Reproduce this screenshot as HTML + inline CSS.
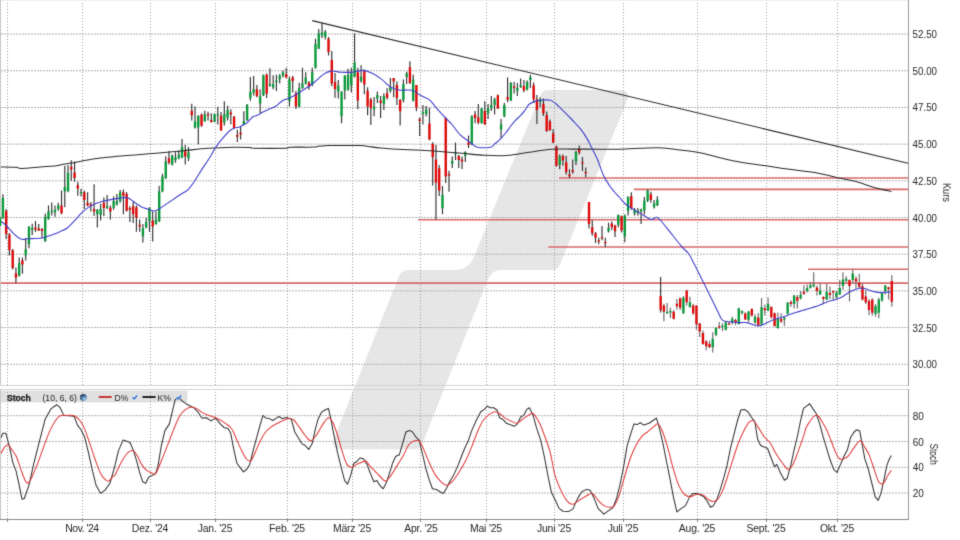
<!DOCTYPE html><html><head><meta charset="utf-8"><title>Stoch Chart</title><style>
html,body{margin:0;padding:0;background:#fff;}body{width:960px;height:540px;overflow:hidden;}
svg{display:block;}text{font-family:"Liberation Sans",Arial,sans-serif;fill:#262626;}
</style></head><body>
<svg width="960" height="540" viewBox="0 0 960 540">
<defs><filter id="soft" x="0" y="0" width="960" height="540" filterUnits="userSpaceOnUse" color-interpolation-filters="sRGB"><feConvolveMatrix order="3" kernelMatrix="0.0144 0.0912 0.0144 0.0912 0.5776 0.0912 0.0144 0.0912 0.0144" divisor="1" edgeMode="duplicate"/></filter></defs>
<g filter="url(#soft)">
<rect width="960" height="540" fill="#fff"/>
<path d="M540.12 95.55Q542.4 90 548.4 90L619.5 90Q631.5 90 626.95 101.1L559.98 264.45Q557.7 270 551.7 270L501.7 270Q491.7 270 487.99 279.29L421.58 445.49Q420.1 449.2 416.1 449.2L341.9 449.2Q329.9 449.2 334.35 438.06L398.9 276.5Q401.5 270 408.5 270L454.6 270Q468.6 270 473.91 257.05Z" fill="#e6e6e6"/>
<rect x="1" y="390.6" width="186.4" height="11.8" fill="#e0e0e0"/>
<path d="M7.5 0V385M7.5 389V519M82.5 0V385M82.5 389V519M150.5 0V385M150.5 389V519M215.5 0V385M215.5 389V519M287.5 0V385M287.5 389V519M352.5 0V385M352.5 389V519M420.5 0V385M420.5 389V519M486.5 0V385M486.5 389V519M554.5 0V385M554.5 389V519M623.5 0V385M623.5 389V519M697.5 0V385M697.5 389V519M766.5 0V385M766.5 389V519M837.5 0V385M837.5 389V519" stroke="#a0a0a0" stroke-width="1" stroke-dasharray="1 2" fill="none" shape-rendering="crispEdges"/>
<path d="M1 34.1H908M1 70.78H908M1 107.46H908M1 144.14H908M1 180.82H908M1 217.5H908M1 254.18H908M1 290.86H908M1 327.54H908M1 364.22H908M1 415.7H908M1 441.5H908M1 467.3H908M1 493.1H908" stroke="#b2b2b2" stroke-width="1" stroke-dasharray="2 1" fill="none"/>
<path d="M7.5 519V522M82.45 519V522M150.6 519V522M215.7 519V522M287.5 519V522M352.55 519V522M420.9 519V522M486.2 519V522M554.5 519V522M623.1 519V522M697.6 519V522M766.2 519V522M837.8 519V522" stroke="#888" stroke-width="1" shape-rendering="crispEdges"/>
<g stroke="#d9686a" stroke-width="1.6" fill="none">
<path d="M559 178H908"/>
<path d="M634 189.4H908"/>
<path d="M418 219.7H908"/>
<path d="M548.3 247H908"/>
<path d="M808 269.2H908"/>
<path d="M0 283.1H908"/>
</g>
<path d="M2.92 194.3V219M6.17 209V239M9.43 233V255.4M12.68 249V269.6M15.94 267.6V282.9M19.2 257.4V276.5M22.45 257.4V273.7M25.71 238V260.5M28.96 226.4V248.2M32.22 223.8V235M35.48 221V232M38.73 224V231M41.99 228V238M45.24 213.6V242M48.5 205.5V219.7M51.76 202.4V215.6M55.01 205.5V216.7M58.27 202.8V210.7M61.52 190.5V214.2M64.78 165.8V207.2M68.04 165V192.2M71.29 160.2V180.8M74.55 161.4V181.7M77.8 181.7V195.7M81.06 188.7V196.6M84.32 190.5V208.9M87.57 192.2V206.3M90.83 201.9V211.6M94.08 184.3V216M97.34 208.9V227.4M100.6 203.7V220.4M103.85 197.5V216M107.11 194.9V208.9M110.36 205.4V219.5M113.62 196.6V209.8M116.88 194V205.4M120.13 190V202.8M123.39 189.6V214.2M126.64 191.9V211.6M129.9 206.3V222.1M133.16 201.9V223M136.41 205.4V231.8M139.67 219.5V231.8M142.92 223.9V242.4M146.18 217.7V228.3M149.44 207.2V231.8M152.69 211.6V241.5M155.95 211.6V224.8M159.2 186.1V222.1M162.46 173.8V192.2M165.72 156.2V179M168.97 151.3V164.5M172.23 154.5V165.5M175.48 152.2V162.7M178.74 150.4V159.2M182 139V158.3M185.25 145.1V164.5M188.51 146.9V161M191.76 103.8V120.5M195.02 106.4V128.4M198.28 115.2V144.3M201.53 113.5V126.7M204.79 110.8V121.8M208.04 111.7V120.4M211.3 113.3V122.5M214.56 113.5V122.3M217.81 106.7V124.6M221.07 112.1V130.4M224.32 101.25V125.4M227.58 105.8V120.4M230.84 109.2V124.2M234.09 116V128.5M237.35 129.8V142.1M240.6 127.1V139.4M243.86 111.3V125.4M247.12 104V121M250.37 77V100.7M253.63 76.1V95.5M256.88 84.9V97.2M260.14 89.3V113.1M263.4 74.5V96M266.65 73.5V98.1M269.91 68.2V86.7M273.16 75.2V89.3M276.42 74.8V91M279.68 74V83.6M282.93 70.4V77.5M286.19 67.8V78.3M289.44 76.6V106.5M292.7 75.7V92.4M295.96 90.7V109.1M299.21 82.7V107.4M302.47 67.8V88.9M305.72 72.2V84.5M308.98 81V89.8M312.24 67.8V86.3M315.49 38.8V68.7M318.75 29.1V49.3M322 22.9V37.9M325.26 30V39.6M328.52 37V55.5M331.77 51V86.3M335.03 73.1V97.7M338.28 80.1V98.6M341.54 91.6V123.2M344.8 74.9V99.5M348.05 68.7V90.7M351.31 67.8V92.5M354.56 33.5V77.5M357.82 67.8V109.2M361.08 65.2V82.8M364.33 69.6V94.2M367.59 87.2V115.3M370.84 97.7V125M374.1 96.9V116.2M377.36 91.6V103M380.61 96V118M383.87 93.3V110M387.12 88V99.5M390.38 77.9V92.8M393.64 77.9V97.2M396.89 81.4V105.1M400.15 99V125.4M403.4 79.6V102.5M406.66 71.7V84M409.92 61.2V84M413.17 74.4V101.6M416.43 84.9V111.3M419.68 117.5V135.9M422.94 105.1V124.5M426.2 106V116.6M429.45 107.8V140.3M432.71 142.3V185.4M435.96 145V219.6M439.22 165V196.1M442.48 186.1V213.9M445.73 117V183M448.99 170.7V191.8M452.24 156.6V168.1M455.5 142.5V160.1M458.76 154.9V168.1M462.01 156.6V168.9M465.27 151.3V161.9M468.52 135.5V148M471.78 115.3V145.2M475.04 111V123.3M478.29 104V124.2M481.55 108V123.5M484.8 101.3V125.1M488.06 104V118.9M491.32 96.1V111M494.57 97.8V114.5M497.83 94.5V109M501.08 118.9V138.3M504.34 103.1V117.2M507.6 77.6V102.2M510.85 82V101M514.11 82V93.4M517.36 82.9V96.1M520.62 78.5V87.9M523.88 80V92.3M527.13 80.5V90.5M530.39 74.7V87.9M533.64 82.6V102.8M536.9 94.9V123.9M540.16 97.5V107.2M543.41 98.4V116M546.67 111.6V131.9M549.92 119.5V131M553.18 129.2V143.3M556.44 145.6V166.7M559.69 154.4V169.3M562.95 154.4V165.8M566.2 156.1V174.6M569.46 169.3V178.1M572.72 159.6V173.7M575.97 150.8V164.9M579.23 145.6V154.4M582.48 157V171M585.74 167.5V177.2M589 202V228.6M592.25 220.2V235.7M595.51 231.9V242.9M598.76 237.7V244.2M602.02 226V240.3M605.28 237.7V246.8M608.53 222.8V232.5M611.79 221.5V229.9M615.04 224.7V237M618.3 214.4V227.3M621.56 215.6V232.5M624.81 214.4V242.2M628.07 196.2V215.6M631.32 192.3V209.8M634.58 207.9V215.6M637.84 207.9V215.6M641.09 208.5V224.1M644.35 196.9V214.4M647.6 189.7V202M650.86 191.7V202.7M654.12 200.1V208.5M657.37 196.2V205.9M660.63 277.1V312.5" stroke="#333" stroke-width="1.15" fill="none"/>
<path d="M663.88 303.8V321.2M667.14 303V314.1M670.4 307.8V318M673.65 310V319.5M676.91 299.1V309.4M680.16 297.5V310.1M683.42 296V314.1M686.68 289.7V305.4M689.93 296.8V307.8M693.19 303.8V314.9M696.44 305.4V329.8M699.7 322.7V336.9M702.96 330.6V344.8M706.21 340V350.3M709.47 340.7V347.9M712.72 332.3V352.4M715.98 327.1V336.2M719.24 322V329.1M722.49 323.2V331M725.75 321.3V330.4M729 322V325.2M732.26 316.8V324.5M735.52 318.7V325.2M738.77 307.7V324.5M742.03 310.3V314.8M745.28 312.2V320M748.54 310.9V322M751.8 308.3V316.8M755.05 314.2V324.5M758.31 312.9V326.5M761.56 298V325.2M764.82 304.4V315.5M768.08 297.6V311.2M771.33 306.7V319M774.59 312.5V326.8M777.84 312.5V328.7M781.1 313.2V322.9M784.36 317V326.1M787.61 302.1V314.4M790.87 300.2V306.7M794.12 295V308.6M797.38 295V308.6M800.64 291.1V299.5M803.89 285.3V295M807.15 284.6V292.4M810.4 282V288.5M813.66 272.3V287.2M816.92 285.5V295.6M820.17 283.3V295M823.43 296.3V303.4M826.68 283.3V300.2M829.94 286.6V298.9M833.2 290.5V299.5M836.45 291.1V298.9M839.71 280.1V295M842.96 272.3V289.8M846.22 276.2V282M849.48 279.4V301.5M852.73 269.7V282.7M855.99 276.2V288.5M859.24 273.8V287.9M862.5 283.3V300.6M865.76 290V304.1M869.01 299V315M872.27 298.2V315.7M875.52 303.9V316.7M878.78 297.8V318.3M882.04 292.8V301.7M885.29 285V294.4M888.55 286.7V299.4M891.8 275V306.7" stroke="#707070" stroke-width="1.2" fill="none"/>
<path d="M1.72 197.9h2.4v19.8h-2.4zM18 263.1h2.4v12.6h-2.4zM24.51 249.3h2.4v6.1h-2.4zM27.76 226.4h2.4v17.8h-2.4zM31.02 227.9h2.4v2h-2.4zM44.04 216.7h2.4v24.4h-2.4zM47.3 211.6h2.4v7.1h-2.4zM50.56 210.5h2.4v1.2h-2.4zM53.81 209.8h2.4v2.7h-2.4zM57.07 205.4h2.4v3.5h-2.4zM63.58 187h2.4v4.3h-2.4zM66.84 172.9h2.4v18.4h-2.4zM79.86 191.9h2.4v1.7h-2.4zM96.14 209.8h2.4v4.4h-2.4zM99.4 208.9h2.4v6.2h-2.4zM105.91 206.3h2.4v1.7h-2.4zM112.42 201h2.4v7h-2.4zM115.68 201h2.4v3.5h-2.4zM118.93 192.2h2.4v8.8h-2.4zM141.72 228.3h2.4v7.9h-2.4zM144.98 222.1h2.4v5.3h-2.4zM148.24 208h2.4v13.3h-2.4zM154.75 219.5h2.4v4.4h-2.4zM158 191.3h2.4v30h-2.4zM161.26 176.4h2.4v14.9h-2.4zM164.52 161.4h2.4v16.7h-2.4zM171.03 155.7h2.4v8.8h-2.4zM174.28 157.5h2.4v2.6h-2.4zM177.54 154.8h2.4v3.5h-2.4zM180.8 146.9h2.4v10.6h-2.4zM187.31 152.2h2.4v6.1h-2.4zM193.82 121.4h2.4v6.1h-2.4zM197.08 116.1h2.4v11.4h-2.4zM203.59 114.2h2.4v7.1h-2.4zM213.36 114.2h2.4v7.5h-2.4zM216.61 114.2h2.4v1.2h-2.4zM223.12 114.2h2.4v8.3h-2.4zM226.38 110h2.4v7.5h-2.4zM242.66 121h2.4v3.5h-2.4zM245.92 105.1h2.4v15h-2.4zM249.17 92h2.4v6.1h-2.4zM252.43 89.3h2.4v3.5h-2.4zM258.94 96.3h2.4v7.1h-2.4zM262.2 75.2h2.4v20.3h-2.4zM268.71 84h2.4v1.8h-2.4zM271.96 84h2.4v3.5h-2.4zM275.22 80.5h2.4v1.8h-2.4zM278.48 75.7h2.4v3.5h-2.4zM281.73 72.2h2.4v3.5h-2.4zM288.24 79.2h2.4v22h-2.4zM298.01 88h2.4v18.5h-2.4zM301.27 83.6h2.4v4.4h-2.4zM304.52 77.5h2.4v6.1h-2.4zM311.04 72.2h2.4v12.3h-2.4zM314.29 44h2.4v23.8h-2.4zM317.55 33.5h2.4v14.9h-2.4zM320.8 32.6h2.4v2.6h-2.4zM324.06 31.7h2.4v5.3h-2.4zM337.08 85.4h2.4v6.2h-2.4zM340.34 91.6h2.4v24.6h-2.4zM343.6 75.7h2.4v15h-2.4zM346.85 74.9h2.4v14.9h-2.4zM350.11 73.1h2.4v12.3h-2.4zM353.36 62.5h2.4v14.1h-2.4zM359.88 76.6h2.4v4.4h-2.4zM372.9 106.5h2.4v2.7h-2.4zM376.16 95.1h2.4v3.5h-2.4zM382.67 96h2.4v7.9h-2.4zM389.18 87.5h2.4v3.5h-2.4zM402.2 84h2.4v15.9h-2.4zM405.46 73.5h2.4v3.5h-2.4zM411.97 79.6h2.4v21.1h-2.4zM421.74 112.2h2.4v1.7h-2.4zM425 109.5h2.4v4.4h-2.4zM441.28 195h2.4v13.3h-2.4zM451.04 161h2.4v2.7h-2.4zM454.3 152.2h2.4v1.8h-2.4zM464.07 152.2h2.4v3.5h-2.4zM470.58 116.6h2.4v27.4h-2.4zM480.35 108.4h2.4v14.9h-2.4zM486.86 108.4h2.4v5.3h-2.4zM490.12 104.9h2.4v3.5h-2.4zM493.37 99.6h2.4v5.3h-2.4zM499.88 124.2h2.4v5.3h-2.4zM503.14 104.9h2.4v11.4h-2.4zM509.65 82.9h2.4v17.6h-2.4zM516.16 88.1h2.4v2.7h-2.4zM519.42 85.2h2.4v1.8h-2.4zM525.93 81.7h2.4v7.9h-2.4zM529.19 77.3h2.4v2.7h-2.4zM538.96 99.3h2.4v2.7h-2.4zM558.49 156.1h2.4v8.8h-2.4zM574.77 151.7h2.4v9.7h-2.4zM607.33 228h2.4v3.2h-2.4zM617.1 215h2.4v9.7h-2.4zM623.61 215.6h2.4v20.8h-2.4zM626.87 196.9h2.4v14.2h-2.4zM633.38 210.5h2.4v3h-2.4zM636.64 210.5h2.4v1.9h-2.4zM639.89 209.5h2.4v2h-2.4zM643.15 200.7h2.4v9.8h-2.4zM646.4 190.4h2.4v10.3h-2.4zM652.92 203.3h2.4v3.9h-2.4zM656.17 199.4h2.4v5.9h-2.4zM665.94 311.7h2.4v1.6h-2.4zM669.2 311h2.4v1.5h-2.4zM682.22 297.5h2.4v15.8h-2.4zM688.73 302.3h2.4v4.7h-2.4zM711.52 338.8h2.4v8.4h-2.4zM714.78 327.8h2.4v7.1h-2.4zM721.29 325.8h2.4v1.3h-2.4zM724.55 322.6h2.4v7.1h-2.4zM731.06 318.7h2.4v3.9h-2.4zM737.57 308.3h2.4v15.6h-2.4zM740.83 310.9h2.4v2h-2.4zM747.34 311.6h2.4v8.4h-2.4zM753.85 316.8h2.4v5.8h-2.4zM760.36 307h2.4v17.5h-2.4zM766.88 304.1h2.4v6.5h-2.4zM776.64 319h2.4v9.1h-2.4zM783.16 317.7h2.4v1.9h-2.4zM786.41 302.8h2.4v11h-2.4zM792.92 295.6h2.4v8.5h-2.4zM799.44 294.4h2.4v3.8h-2.4zM805.95 287.9h2.4v3.2h-2.4zM809.2 285.3h2.4v2.6h-2.4zM812.46 284.6h2.4v2h-2.4zM818.97 290.5h2.4v3.9h-2.4zM825.48 291.8h2.4v7.7h-2.4zM835.25 292.4h2.4v4.6h-2.4zM838.51 287.9h2.4v6.5h-2.4zM841.76 279.4h2.4v6.5h-2.4zM845.02 278.8h2.4v1.9h-2.4zM851.53 273.6h2.4v6.5h-2.4zM874.32 306.1h2.4v7.8h-2.4zM877.58 299.4h2.4v13.4h-2.4zM880.84 293.3h2.4v7.3h-2.4zM884.09 285.6h2.4v5.5h-2.4z" fill="#0c9a3c"/>
<path d="M4.97 211h2.4v23h-2.4zM8.23 234.6h2.4v15.7h-2.4zM11.48 250.3h2.4v17.7h-2.4zM14.74 273.3h2.4v4.5h-2.4zM21.25 260.5h2.4v4h-2.4zM34.28 227.5h2.4v2h-2.4zM37.53 228.5h2.4v2h-2.4zM40.79 229h2.4v2h-2.4zM60.32 205.4h2.4v7.9h-2.4zM70.09 166.7h2.4v2.7h-2.4zM73.35 172.5h2.4v5.6h-2.4zM76.6 185.2h2.4v3.2h-2.4zM83.12 192.2h2.4v7.9h-2.4zM86.37 202.8h2.4v2.6h-2.4zM89.63 204.2h2.4v1.8h-2.4zM92.88 208.9h2.4v2.7h-2.4zM102.65 202.8h2.4v5.2h-2.4zM109.16 207.7h2.4v3.9h-2.4zM122.19 192.2h2.4v3.5h-2.4zM125.44 194h2.4v16.7h-2.4zM128.7 208h2.4v1.8h-2.4zM131.96 206.3h2.4v7.9h-2.4zM135.21 207.2h2.4v10.5h-2.4zM138.47 224.8h2.4v1.7h-2.4zM151.49 220.4h2.4v6.1h-2.4zM167.77 158.3h2.4v4.4h-2.4zM184.05 151.3h2.4v5.3h-2.4zM190.56 110.8h2.4v4.4h-2.4zM200.33 114.4h2.4v11.4h-2.4zM206.84 114.2h2.4v1.6h-2.4zM210.1 120h2.4v2h-2.4zM219.87 115.8h2.4v14.6h-2.4zM229.64 112.5h2.4v2.1h-2.4zM232.89 116.7h2.4v11.3h-2.4zM236.15 135h2.4v1.8h-2.4zM239.4 132.4h2.4v1.8h-2.4zM255.68 89.3h2.4v7h-2.4zM265.45 74.4h2.4v19.3h-2.4zM284.99 74h2.4v3.5h-2.4zM291.5 77.5h2.4v3.5h-2.4zM294.76 93.3h2.4v13.2h-2.4zM307.78 82.7h2.4v4.4h-2.4zM327.32 38.8h2.4v13.1h-2.4zM330.57 59.9h2.4v23.7h-2.4zM333.83 81.9h2.4v7h-2.4zM356.62 72.2h2.4v28.2h-2.4zM363.13 71.3h2.4v13.2h-2.4zM366.39 90.7h2.4v15.8h-2.4zM369.64 99.5h2.4v8.8h-2.4zM379.41 100.4h2.4v2.6h-2.4zM385.92 93.3h2.4v4.4h-2.4zM392.44 77.9h2.4v3.5h-2.4zM395.69 84.9h2.4v13.2h-2.4zM398.95 99.9h2.4v11.4h-2.4zM408.72 67.3h2.4v15.8h-2.4zM415.23 84.9h2.4v22.9h-2.4zM418.48 119.2h2.4v1.8h-2.4zM428.25 123.6h2.4v15.8h-2.4zM431.51 143.9h2.4v13.3h-2.4zM434.76 159.4h2.4v23.4h-2.4zM438.02 168.3h2.4v22.3h-2.4zM444.53 117.9h2.4v58.6h-2.4zM447.79 173.9h2.4v1.6h-2.4zM457.56 156.1h2.4v4h-2.4zM460.81 159.6h2.4v1.8h-2.4zM467.32 142.5h2.4v2.3h-2.4zM473.84 114.5h2.4v3.5h-2.4zM477.09 117.2h2.4v5.2h-2.4zM483.6 111h2.4v13.2h-2.4zM496.63 95.2h2.4v13.2h-2.4zM506.4 96.9h2.4v2.7h-2.4zM512.91 86.4h2.4v1.7h-2.4zM522.68 86.1h2.4v4.4h-2.4zM532.44 85.2h2.4v14.1h-2.4zM535.7 99.3h2.4v10.6h-2.4zM542.21 103.7h2.4v9.7h-2.4zM545.47 115.1h2.4v15.9h-2.4zM548.72 121.3h2.4v8.8h-2.4zM551.98 133.6h2.4v8.8h-2.4zM555.24 146.6h2.4v19.2h-2.4zM561.75 156.1h2.4v4.4h-2.4zM565 162.3h2.4v9.6h-2.4zM568.26 174.6h2.4v1.7h-2.4zM571.52 170.2h2.4v1.7h-2.4zM578.03 149.1h2.4v3.5h-2.4zM581.28 162.3h2.4v1.2h-2.4zM584.54 172h2.4v1.2h-2.4zM587.8 202h2.4v22.1h-2.4zM591.05 227.3h2.4v5.9h-2.4zM594.31 233.2h2.4v4.5h-2.4zM597.56 240.3h2.4v1.3h-2.4zM600.82 237h2.4v1.3h-2.4zM604.08 242h2.4v1.2h-2.4zM610.59 223.4h2.4v3.9h-2.4zM613.84 225.4h2.4v5.8h-2.4zM620.36 216.3h2.4v14.3h-2.4zM630.12 196.2h2.4v11.7h-2.4zM649.66 194.3h2.4v5.8h-2.4zM659.43 296h2.4v14.1h-2.4zM662.68 305.4h2.4v6.3h-2.4zM672.45 311.7h2.4v7.1h-2.4zM675.71 303.8h2.4v2.4h-2.4zM678.96 298.3h2.4v9.5h-2.4zM685.48 290.5h2.4v11.8h-2.4zM691.99 305.4h2.4v7.9h-2.4zM695.24 305.4h2.4v18.9h-2.4zM698.5 323.5h2.4v7.9h-2.4zM701.76 333h2.4v11h-2.4zM705.01 341.6h2.4v4.7h-2.4zM708.27 344h2.4v3.2h-2.4zM718.04 326.2h2.4v1.6h-2.4zM727.8 323.2h2.4v1.3h-2.4zM734.32 320h2.4v2.6h-2.4zM744.08 313.5h2.4v5.9h-2.4zM750.6 309h2.4v6.5h-2.4zM757.11 317.4h2.4v7.8h-2.4zM763.62 308.3h2.4v2h-2.4zM770.13 306.7h2.4v10.3h-2.4zM773.39 313.2h2.4v12.9h-2.4zM779.9 319h2.4v2.6h-2.4zM789.67 302.1h2.4v2h-2.4zM796.18 297h2.4v3.8h-2.4zM802.69 291.8h2.4v1.9h-2.4zM815.72 287.5h2.4v3.6h-2.4zM822.23 297h2.4v1.9h-2.4zM828.74 293h2.4v2h-2.4zM832 291.1h2.4v1.3h-2.4zM848.28 280.1h2.4v5.8h-2.4zM854.79 278.8h2.4v2.6h-2.4zM858.04 282.8h2.4v3.9h-2.4zM861.3 286.3h2.4v13.2h-2.4zM864.56 296.5h2.4v5.8h-2.4zM867.81 300.9h2.4v9.1h-2.4zM871.07 299.5h2.4v13.2h-2.4zM887.35 287.2h2.4v1.7h-2.4zM890.6 281.1h2.4v20.6h-2.4z" fill="#dd0a0a"/>
<path d="M0 166.9C2.7 166.97 13.03 167.07 16.2 167.3C19.37 167.53 17.42 168.13 19 168.3C20.58 168.47 22.2 168.52 25.7 168.3C29.2 168.08 36.38 167.3 40 167C43.62 166.7 44.93 166.65 47.4 166.5C49.87 166.35 52.95 166.28 54.8 166.1C56.65 165.92 57.27 165.68 58.5 165.4C59.73 165.12 60.28 164.75 62.2 164.4C64.12 164.05 66.83 163.83 70 163.3C73.17 162.77 77.07 161.95 81.2 161.2C85.33 160.45 90.28 159.47 94.8 158.8C99.32 158.13 103.78 157.68 108.3 157.2C112.82 156.72 118.28 156.23 121.9 155.9C125.52 155.57 124.33 155.63 130 155.2C135.67 154.77 147.27 154.02 155.9 153.3C164.53 152.58 173.17 151.73 181.8 150.9C190.43 150.07 199.07 148.92 207.7 148.3C216.33 147.68 226.55 147.32 233.6 147.2C240.65 147.08 246.6 147.43 250 147.6C253.4 147.77 248.17 148.1 254 148.2C259.83 148.3 279 148.37 285 148.2C291 148.03 285.22 147.38 290 147.2C294.78 147.02 309.03 147.27 313.7 147.1C318.37 146.93 316.33 146.38 318 146.2C319.67 146.02 322.03 146.1 323.7 146C325.37 145.9 321.95 145.68 328 145.6C334.05 145.52 353.33 145.37 360 145.5C366.67 145.63 364.48 145.98 368 146.4C371.52 146.82 375.22 147.47 381.1 148C386.98 148.53 395.88 149.2 403.3 149.6C410.72 150 419.48 150.07 425.6 150.4C431.72 150.73 433.9 151.12 440 151.6C446.1 152.08 454.8 152.68 462.2 153.3C469.6 153.92 476.98 154.95 484.4 155.3C491.82 155.65 499.28 155.9 506.7 155.4C514.12 154.9 521.5 153.32 528.9 152.3C536.3 151.28 543.7 149.83 551.1 149.3C558.5 148.77 565.15 149.12 573.3 149.1C581.45 149.08 592.22 149.18 600 149.2C607.78 149.22 610.28 149.43 620 149.2C629.72 148.97 648.3 147.67 658.3 147.8C668.3 147.93 673.05 149.17 680 150C686.95 150.83 691.2 151 700 152.8C708.8 154.6 721.87 158.63 732.8 160.8C743.73 162.97 756.48 164.42 765.6 165.8C774.72 167.18 779.1 167.93 787.5 169.1C795.9 170.27 807.98 171.45 816 172.8C824.02 174.15 828.68 175.67 835.6 177.2C842.52 178.73 850.93 180.25 857.5 182C864.07 183.75 869.35 186.13 875 187.7C880.65 189.27 888.67 190.78 891.4 191.4" fill="none" stroke="#2a2a2a" stroke-width="1.05"/>
<path d="M0 220.8C0.93 221.5 3.25 222.78 5.6 225C7.95 227.22 11.52 231.75 14.1 234.1C16.68 236.45 18.77 238.32 21.1 239.1C23.43 239.88 24.58 238.98 28.1 238.8C31.62 238.62 38.92 238.42 42.2 238C45.48 237.58 45.45 237.1 47.8 236.3C50.15 235.5 54.27 233.98 56.3 233.2C58.33 232.42 58.17 232.47 60 231.6C61.83 230.73 64.87 229.82 67.3 228C69.73 226.18 72.17 223.25 74.6 220.7C77.03 218.15 79.47 215 81.9 212.7C84.33 210.4 86.77 208.48 89.2 206.9C91.63 205.32 94.07 204.18 96.5 203.2C98.93 202.22 101.38 201.6 103.8 201C106.22 200.4 108.58 200.03 111 199.6C113.42 199.17 115.87 198.77 118.3 198.4C120.73 198.03 123.65 197.32 125.6 197.4C127.55 197.48 128.3 197.93 130 198.9C131.7 199.87 133.85 201.87 135.8 203.2C137.75 204.53 139.75 205.92 141.7 206.9C143.65 207.88 145.57 208.42 147.5 209.1C149.43 209.78 151.6 210.88 153.3 211C155 211.12 156.23 210.48 157.7 209.8C159.17 209.12 159.92 208.37 162.1 206.9C164.28 205.43 167.82 203.02 170.8 201C173.78 198.98 177.12 196.7 180 194.8C182.88 192.9 185.63 191.95 188.1 189.6C190.57 187.25 192.45 184.15 194.8 180.7C197.15 177.25 199.73 172.72 202.2 168.9C204.67 165.08 207.37 161.38 209.6 157.8C211.83 154.22 213.37 150.73 215.6 147.4C217.83 144.07 220.7 140.53 223 137.8C225.3 135.07 227.58 132.58 229.4 131C231.22 129.42 232.17 128.98 233.9 128.3C235.63 127.62 238.2 127.52 239.8 126.9C241.4 126.28 242.27 125.28 243.5 124.6C244.73 123.92 246.08 123.67 247.2 122.8C248.32 121.93 249.22 120.45 250.2 119.4C251.18 118.35 252.12 117.12 253.1 116.5C254.08 115.88 254.98 116.13 256.1 115.7C257.22 115.27 258.57 114.57 259.8 113.9C261.03 113.23 261.9 112.5 263.5 111.7C265.1 110.9 267.42 109.97 269.4 109.1C271.38 108.23 273.67 107.55 275.4 106.5C277.13 105.45 278.32 103.92 279.8 102.8C281.28 101.68 282.23 100.82 284.3 99.8C286.37 98.78 289.03 98.33 292.2 96.7C295.37 95.07 299.6 92.42 303.3 90C307 87.58 311.07 84.8 314.4 82.2C317.73 79.6 320.52 76.25 323.3 74.4C326.08 72.55 328.13 71.47 331.1 71.1C334.07 70.73 337.58 72.02 341.1 72.2C344.62 72.38 348.5 72.5 352.2 72.2C355.9 71.9 359.97 70.22 363.3 70.4C366.63 70.58 369.23 71.88 372.2 73.3C375.17 74.72 378.13 76.67 381.1 78.9C384.07 81.13 387.03 84.85 390 86.7C392.97 88.55 395.93 89.45 398.9 90C401.87 90.55 405.4 89.87 407.8 90C410.2 90.13 411.27 89.97 413.3 90.8C415.33 91.63 418.05 93.87 420 95C421.95 96.13 423.33 96.72 425 97.6C426.67 98.48 428.05 98.52 430 100.3C431.95 102.08 434.75 106.05 436.7 108.3C438.65 110.55 440.03 111.98 441.7 113.8C443.37 115.62 444.98 117.42 446.7 119.2C448.42 120.98 449.78 121.92 452 124.5C454.22 127.08 457.28 131.93 460 134.7C462.72 137.47 466.17 139.52 468.3 141.1C470.43 142.68 471.32 143.18 472.8 144.2C474.28 145.22 474.23 146.7 477.2 147.2C480.17 147.7 487.73 147.7 490.6 147.2C493.47 146.7 492.83 145.5 494.4 144.2C495.97 142.9 498.12 141.27 500 139.4C501.88 137.53 503.97 135.15 505.7 133C507.43 130.85 508.85 128.52 510.4 126.5C511.95 124.48 513.3 122.75 515 120.9C516.7 119.05 519.05 117.02 520.6 115.4C522.15 113.78 523.23 112.6 524.3 111.2C525.37 109.8 526.08 108.23 527 107C527.92 105.77 528.37 104.78 529.8 103.8C531.23 102.82 533.53 101.73 535.6 101.1C537.67 100.47 539.72 100.15 542.2 100C544.68 99.85 548.27 99.62 550.5 100.2C552.73 100.78 553.9 102.15 555.6 103.5C557.3 104.85 559 106.67 560.7 108.3C562.4 109.93 564.1 111.6 565.8 113.3C567.5 115 569.2 116.72 570.9 118.5C572.6 120.28 574.3 122.13 576 124C577.7 125.87 579.23 127.22 581.1 129.7C582.97 132.18 585.5 136.02 587.2 138.9C588.9 141.78 589.6 143.6 591.3 147C593 150.4 595.37 154.55 597.4 159.3C599.43 164.05 601.47 171.1 603.5 175.5C605.53 179.9 607.77 182.95 609.6 185.7C611.43 188.45 612.85 190.03 614.5 192C616.15 193.97 617.68 195.5 619.5 197.5C621.32 199.5 623.33 202.17 625.4 204C627.47 205.83 629.47 206.98 631.9 208.5C634.33 210.02 637.08 211.37 640 213.1C642.92 214.83 647.28 217.9 649.4 218.9C651.52 219.9 651.5 219.38 652.7 219.1C653.9 218.82 655.42 217.13 656.6 217.2C657.78 217.27 657.75 217.27 659.8 219.5C661.85 221.73 665.22 226.05 668.9 230.6C672.58 235.15 678.63 242.98 681.9 246.8C685.17 250.62 686.48 250.72 688.5 253.5C690.52 256.28 692.08 259.83 694 263.5C695.92 267.17 698 271.5 700 275.5C702 279.5 704 283.47 706 287.5C708 291.53 710 295.62 712 299.7C714 303.78 716.42 308.78 718 312C719.58 315.22 720.42 317.47 721.5 319C722.58 320.53 722.87 320.72 724.5 321.2C726.13 321.68 728.65 321.67 731.3 321.9C733.95 322.13 737.8 322.48 740.4 322.6C743 322.72 744.52 322.17 746.9 322.6C749.28 323.03 752.75 324.67 754.7 325.2C756.65 325.73 757.32 325.85 758.6 325.8C759.88 325.75 760.83 325.48 762.4 324.9C763.97 324.32 766.23 323.12 768 322.3C769.77 321.48 771.1 320.72 773 320C774.9 319.28 777.25 318.65 779.4 318C781.55 317.35 783.73 316.85 785.9 316.1C788.07 315.35 790.23 314.25 792.4 313.5C794.57 312.75 796.73 312.25 798.9 311.6C801.07 310.95 803.23 310.25 805.4 309.6C807.57 308.95 809.47 308.45 811.9 307.7C814.33 306.95 817.32 306.15 820 305.1C822.68 304.05 825.6 302.27 828 301.4C830.4 300.53 832.25 300.53 834.4 299.9C836.55 299.27 838.73 298.68 840.9 297.6C843.07 296.52 845.23 294.65 847.4 293.4C849.57 292.15 851.95 290.97 853.9 290.1C855.85 289.23 857.37 288.47 859.1 288.2C860.83 287.93 862.58 288.17 864.3 288.5C866.02 288.83 867.62 289.63 869.4 290.2C871.18 290.77 873.13 291.5 875 291.9C876.87 292.3 878.75 292.55 880.6 292.6C882.45 292.65 884.43 292.27 886.1 292.2C887.77 292.13 889.85 292.2 890.6 292.2" fill="none" stroke="#4040cc" stroke-width="1.1"/>
<path d="M312.2 20.6L908 163.3" stroke="#2a2a2a" stroke-width="1.1" fill="none"/>
<polyline points="0,440.1 2.8,433.2 5.8,433.2 9.3,445.9 12.7,462.1 16.2,471.4 19.7,487.6 22,499.2 24.3,498.5 28.9,485.3 33.6,464.4 39.4,441.3 45.1,419.3 50.9,408.9 56.7,404.7 60.2,407.7 63.7,415.4 69.4,415.8 74.1,416.3 77.5,425.1 81,429.7 84.5,436.7 88,450.6 92.6,471.4 96.1,485.3 100.7,493.4 105.3,489.9 110,483 114.6,466.8 118.5,450.6 123.1,440.1 126.6,441.3 130,442.5 133.5,450.6 137,462.1 139.3,471.4 142.8,481.8 145.6,483.4 148.6,477.2 152,475.6 155.5,473.7 157.8,466.8 161.3,445.9 164.8,430.9 169.4,423.9 172.4,411.2 175.2,399.6 178.7,397.3 182.1,400.8 186.8,404.3 193.7,407.7 198.3,412.4 201.8,418.1 206.4,417.7 211.1,420.9 215.7,418.1 220.3,423.9 223.8,427.4 228,428.6 230.7,433.2 233.5,448.2 236.9,463.3 240.4,467.9 243.4,471.9 246.7,469.5 249.7,464.4 253.1,450.6 256.6,437.8 260.1,425.1 262.9,415.4 265.9,418.1 269.4,418.6 272.8,420.5 276.3,418.1 279.1,416.5 282.1,418.6 286.7,417.5 291.3,419.3 294.8,432 298.3,437.8 301.8,443.6 305.2,445.5 308.7,449.4 312.2,443.6 315.2,429.7 318,419.3 321.4,412.4 324.9,410 328.4,408.4 330.7,418.1 334.2,436.7 337.6,452.9 341.1,466.8 344.6,480.6 347.6,484.1 350.8,474.9 353.8,463.3 356.6,461.7 360,458 363.5,458.7 367,464.4 370.5,473.7 373.9,481.8 376.9,480.6 379.7,485.3 383.2,488.8 386.2,483 389,474.9 392.5,463.3 395.9,456.3 399.4,454.7 402.9,442.5 405.9,432 409.4,430.4 412.6,432 415.6,436.7 419.1,440.1 422.5,454 426,469.1 429.5,480.6 432.5,488.8 436.4,489.4 439.9,491.8 443.4,493.4 446.9,487.6 450.3,480.6 453.8,474.9 458.4,464.4 461.9,455.2 464.9,447.8 468.1,441.3 471.6,430.9 476.2,420.5 480.8,411.7 484.3,409.4 487.3,406.1 490.1,407.7 493.6,407.7 497,410 499.8,418.1 502.8,419.3 506.3,423.2 509.8,424.6 514.4,426.3 517.4,423.9 520.6,417 523.7,415.4 526.7,409.4 529.4,407.7 532.9,414.7 536.4,427.4 541,441.3 544.5,457.5 548,476 551.4,492.2 555.4,500.3 559.1,508.4 563,511.2 568.8,511.4 573,508.9 575.7,502.6 578.5,496.9 581.9,491.8 586.6,489.4 590,489.9 593.5,496.9 598.1,508.4 603.9,514.2 608.6,510.7 613.2,507.3 616.7,498 620.1,484.1 623.6,466.8 627.1,445.9 630.6,434.4 634,423.9 637,424.6 640.3,422.8 643.8,425.1 649.1,423.2 653.7,420 656.5,418.1 659.5,428.6 663,443.6 666.4,461 669.9,478.3 673.4,496.9 676.9,511.9 681.5,508.4 685.6,505.6 689.6,496.9 692.8,493.4 696.9,493.4 700.4,495 703.9,496.9 707.4,501.5 710.4,507.3 713.1,506.1 716.6,500.3 720.1,489.9 723.6,478.3 727,465.6 730.5,448.2 734,434.4 737.5,420.5 740.9,410 744.4,409.4 747.9,411.7 751.3,417 754.8,421.6 757.6,439 760.6,445.5 764.1,447.1 767.5,448.2 771,457.5 774.5,466.8 776.8,464.4 780.3,472.5 784.4,480.2 787.2,478.3 790.7,465.6 794.2,449.4 797.6,435.5 800.6,420.5 803.5,408.4 806.5,406.1 809.7,403.8 812.7,408.4 816.2,413.5 819.7,423.9 823.1,436.7 826.6,448.2 830.1,459.8 833.6,469.1 837,472.5 840.5,464.4 844,456.3 847.5,449.4 850.5,437.8 853.7,432.5 856.7,429.7 859.7,430.9 862,443.6 864.8,458.7 868.3,469.1 871.8,483 875.2,496.9 878.2,500.3 881,493.4 883.8,480.6 886.8,465.6 889.1,459.4 891.4,455.6" fill="none" stroke="#333" stroke-width="1.05" stroke-linejoin="round"/>
<path d="M0 455.2C0.77 453.85 3.25 448.83 4.6 447.1C5.95 445.37 6.93 444.42 8.1 444.8C9.27 445.18 10.25 447.48 11.6 449.4C12.95 451.32 14.67 453.02 16.2 456.3C17.73 459.58 19.25 464.97 20.8 469.1C22.35 473.23 24.15 478.87 25.5 481.1C26.85 483.33 27.75 483.35 28.9 482.5C30.05 481.65 30.85 479.4 32.4 476C33.95 472.6 36.27 467.12 38.2 462.1C40.13 457.08 42.07 451.1 44 445.9C45.93 440.7 47.87 435.13 49.8 430.9C51.73 426.67 53.87 423.02 55.6 420.5C57.33 417.98 58.28 416.65 60.2 415.8C62.12 414.95 64.78 415.4 67.1 415.4C69.42 415.4 71.97 414.95 74.1 415.8C76.23 416.65 78.17 418.37 79.9 420.5C81.63 422.63 82.97 425.13 84.5 428.6C86.03 432.07 87.37 436.28 89.1 441.3C90.83 446.32 92.97 453.3 94.9 458.7C96.83 464.1 98.97 470.23 100.7 473.7C102.43 477.17 103.95 478.27 105.3 479.5C106.65 480.73 107.45 481.68 108.8 481.1C110.15 480.52 112.37 477.03 113.4 476C114.43 474.97 113.77 477.02 115 474.9C116.23 472.78 118.87 466.78 120.8 463.3C122.73 459.82 124.67 456.12 126.6 454C128.53 451.88 130.67 450.4 132.4 450.6C134.13 450.8 135.47 452.9 137 455.2C138.53 457.5 140.05 461.9 141.6 464.4C143.15 466.9 144.75 468.85 146.3 470.2C147.85 471.55 149.37 471.92 150.9 472.5C152.43 473.08 153.77 475.62 155.5 473.7C157.23 471.78 159.18 466.02 161.3 461C163.42 455.98 166.08 449 168.2 443.6C170.32 438.2 172.07 433.23 174 428.6C175.93 423.97 177.87 419 179.8 415.8C181.73 412.6 183.67 410.87 185.6 409.4C187.53 407.93 189.47 407.08 191.4 407C193.33 406.92 195.47 408 197.2 408.9C198.93 409.8 200.07 411.37 201.8 412.4C203.53 413.43 205.48 414.25 207.6 415.1C209.72 415.95 212.38 416.68 214.5 417.5C216.62 418.32 218.37 418.93 220.3 420C222.23 421.07 224.37 422.65 226.1 423.9C227.83 425.15 229.47 426.15 230.7 427.5C231.93 428.85 232.47 429.9 233.5 432C234.53 434.1 235.55 437 236.9 440.1C238.25 443.2 240.05 447.5 241.6 450.6C243.15 453.7 244.67 456.97 246.2 458.7C247.73 460.43 249.25 462.17 250.8 461C252.35 459.83 253.95 454.98 255.5 451.7C257.05 448.42 258.57 444.38 260.1 441.3C261.63 438.22 262.97 435.52 264.7 433.2C266.43 430.88 268.37 429.07 270.5 427.4C272.63 425.73 275.38 424.35 277.5 423.2C279.62 422.05 281.28 421.27 283.2 420.5C285.12 419.73 287.25 418.68 289 418.6C290.75 418.52 291.97 418.53 293.7 420C295.43 421.47 297.48 424.82 299.4 427.4C301.32 429.98 303.27 433.27 305.2 435.5C307.13 437.73 309.07 440.98 311 440.8C312.93 440.62 314.87 437.1 316.8 434.4C318.73 431.7 320.67 427.38 322.6 424.6C324.53 421.82 326.67 418 328.4 417.7C330.13 417.4 331.47 419.83 333 422.8C334.53 425.77 336.05 430.68 337.6 435.5C339.15 440.32 340.75 446.88 342.3 451.7C343.85 456.52 345.3 461.82 346.9 464.4C348.5 466.98 350.28 467.2 351.9 467.2C353.52 467.2 355.05 465.17 356.6 464.4C358.15 463.63 359.67 463.17 361.2 462.6C362.73 462.03 364.25 460.3 365.8 461C367.35 461.7 368.95 465.07 370.5 466.8C372.05 468.53 373.57 469.87 375.1 471.4C376.63 472.93 377.97 474.38 379.7 476C381.43 477.62 383.57 481.28 385.5 481.1C387.43 480.92 389.37 477.48 391.3 474.9C393.23 472.32 395.17 468.7 397.1 465.6C399.03 462.5 400.97 459.77 402.9 456.3C404.83 452.83 406.97 447.3 408.7 444.8C410.43 442.3 411.57 441.97 413.3 441.3C415.03 440.63 417.37 439.45 419.1 440.8C420.83 442.15 421.97 445.65 423.7 449.4C425.43 453.15 427.57 459.05 429.5 463.3C431.43 467.55 433.37 471.82 435.3 474.9C437.23 477.98 439.17 480.07 441.1 481.8C443.03 483.53 444.98 485.42 446.9 485.3C448.82 485.18 450.68 483.12 452.6 481.1C454.52 479.08 456.35 476.37 458.4 473.2C460.45 470.03 462.7 466.45 464.9 462.1C467.1 457.75 469.52 452.12 471.6 447.1C473.68 442.08 475.48 436.43 477.4 432C479.32 427.57 481.18 423.38 483.1 420.5C485.02 417.62 486.97 416.17 488.9 414.7C490.83 413.23 492.95 411.9 494.7 411.7C496.45 411.5 497.67 412.43 499.4 413.5C501.13 414.57 503.18 416.87 505.1 418.1C507.02 419.33 508.97 420.05 510.9 420.9C512.83 421.75 514.77 423.47 516.7 423.2C518.63 422.93 520.57 420.6 522.5 419.3C524.43 418 526.57 416.37 528.3 415.4C530.03 414.43 531.17 412.47 532.9 413.5C534.63 414.53 536.77 417.93 538.7 421.6C540.63 425.27 542.57 430.28 544.5 435.5C546.43 440.72 548.57 446.33 550.3 452.9C552.03 459.47 553.17 468.73 554.9 474.9C556.63 481.07 558.77 485.67 560.7 489.9C562.63 494.13 564.57 497.9 566.5 500.3C568.43 502.7 570.57 504.03 572.3 504.3C574.03 504.57 575.48 502.75 576.9 501.9C578.32 501.05 579.18 500.23 580.8 499.2C582.42 498.17 584.67 496.67 586.6 495.7C588.53 494.73 590.48 492.63 592.4 493.4C594.32 494.17 596.18 498.27 598.1 500.3C600.02 502.33 601.97 504.43 603.9 505.6C605.83 506.77 607.95 507.3 609.7 507.3C611.45 507.3 612.85 507.53 614.4 505.6C615.95 503.67 617.27 500.63 619 495.7C620.73 490.77 622.87 482.37 624.8 476C626.73 469.63 628.68 462.7 630.6 457.5C632.52 452.3 634.38 448.35 636.3 444.8C638.22 441.25 640.17 438.4 642.1 436.2C644.03 434 645.97 433.15 647.9 431.6C649.83 430.05 652.03 428.18 653.7 426.9C655.37 425.62 656.55 423.43 657.9 423.9C659.25 424.37 660.18 425.83 661.8 429.7C663.42 433.57 665.67 440.53 667.6 447.1C669.53 453.67 671.47 462.55 673.4 469.1C675.33 475.65 677.27 482.08 679.2 486.4C681.13 490.72 683.08 493.3 685 495C686.92 496.7 689.1 496.6 690.7 496.6C692.3 496.6 693.17 495.42 694.6 495C696.03 494.58 697.75 493.98 699.3 494.1C700.85 494.22 702.37 494.78 703.9 495.7C705.43 496.62 706.97 498.63 708.5 499.6C710.03 500.57 711.55 501.57 713.1 501.5C714.65 501.43 716.25 500.93 717.8 499.2C719.35 497.47 720.87 494.58 722.4 491.1C723.93 487.62 725.27 483.52 727 478.3C728.73 473.08 730.87 465.77 732.8 459.8C734.73 453.83 736.67 447.52 738.6 442.5C740.53 437.48 742.67 433.07 744.4 429.7C746.13 426.33 747.45 423.77 749 422.3C750.55 420.83 752.15 420.05 753.7 420.9C755.25 421.75 756.57 424.77 758.3 427.4C760.03 430.03 762.17 434.18 764.1 436.7C766.03 439.22 767.98 439.8 769.9 442.5C771.82 445.2 773.48 449.43 775.6 452.9C777.72 456.37 780.47 460.53 782.6 463.3C784.73 466.07 786.67 469.32 788.4 469.5C790.13 469.68 791.47 467.17 793 464.4C794.53 461.63 795.87 457.52 797.6 452.9C799.33 448.28 802 440.85 803.4 436.7C804.8 432.55 805.02 430.4 806 428C806.98 425.6 807.98 424.25 809.3 422.3C810.62 420.35 812.43 417.38 813.9 416.3C815.37 415.22 816.75 414.92 818.1 415.8C819.45 416.68 820.58 419.28 822 421.6C823.42 423.92 825.05 426.42 826.6 429.7C828.15 432.98 829.75 437.43 831.3 441.3C832.85 445.17 834.55 450 835.9 452.9C837.25 455.8 838.05 457.73 839.4 458.7C840.75 459.67 842.47 459.22 844 458.7C845.53 458.18 846.87 457.53 848.6 455.6C850.33 453.67 852.47 449.57 854.4 447.1C856.33 444.63 858.47 440.8 860.2 440.8C861.93 440.8 863.27 444.63 864.8 447.1C866.33 449.57 867.85 451.93 869.4 455.6C870.95 459.27 872.55 464.73 874.1 469.1C875.65 473.47 877.17 479.42 878.7 481.8C880.23 484.18 881.83 484.37 883.3 483.4C884.77 482.43 886.15 478.2 887.5 476C888.85 473.8 890.75 471.17 891.4 470.2" fill="none" stroke="#e03a3a" stroke-width="1.05"/>
<path d="M0 0.5H908" stroke="#efefef" stroke-width="1" shape-rendering="crispEdges"/>
<path d="M0.5 0V385M0.5 389V519" stroke="#c8c8c8" stroke-width="1" shape-rendering="crispEdges"/>
<rect x="0" y="217" width="1.3" height="9" fill="#0c9a3c"/>
<path d="M0 385.5H909M0 389.5H909" stroke="#d4d4d4" stroke-width="1" shape-rendering="crispEdges"/>
<path d="M908.5 0V386M908.5 389V520" stroke="#9a9a9a" stroke-width="1" shape-rendering="crispEdges"/>
<path d="M0 519.5H909" stroke="#8a8a8a" stroke-width="1" shape-rendering="crispEdges"/>
<text x="7" y="400.5" font-size="8.6" font-weight="bold" fill="#000" stroke="#000" stroke-width="0.25">Stoch</text>
<text x="42.5" y="400.5" font-size="8.6" fill="#222">(10, 6, 6)</text>
<defs><radialGradient id="gl" cx="0.75" cy="0.8" r="0.9"><stop offset="0" stop-color="#a8cdf0"/><stop offset="0.5" stop-color="#4f7fb0"/><stop offset="1" stop-color="#10243c"/></radialGradient></defs>
<circle cx="83.4" cy="397.4" r="3.5" fill="url(#gl)"/><path d="M80.3 397.6q1.2-0.2 2.2 0.6q1.4 0.6 2.6-0.2" stroke="#cfe3f5" stroke-width="0.6" fill="none" opacity="0.7"/>
<path d="M98.8 397H111.7" stroke="#cc2020" stroke-width="1.8"/>
<text x="114.5" y="400.5" font-size="8.6" fill="#222">D%</text>
<path d="M132.6 397.4l1.6 1.6l3-3.4" stroke="#fff" stroke-width="2.6" fill="none" opacity="0.7"/><path d="M132.6 397.4l1.6 1.6l3-3.4" stroke="#2a6fd6" stroke-width="1.5" fill="none"/>
<path d="M142.4 397H155.6" stroke="#111" stroke-width="1.8"/>
<text x="157.5" y="400.5" font-size="8.6" fill="#222">K%</text>
<path d="M176.6 397.4l1.6 1.6l3-3.4" stroke="#fff" stroke-width="2.6" fill="none" opacity="0.7"/><path d="M176.6 397.4l1.6 1.6l3-3.4" stroke="#2a6fd6" stroke-width="1.5" fill="none"/>
<text x="912.6" y="38.1" font-size="10" textLength="24.4" lengthAdjust="spacingAndGlyphs">52.50</text>
<text x="912.6" y="74.78" font-size="10" textLength="24.4" lengthAdjust="spacingAndGlyphs">50.00</text>
<text x="912.6" y="111.46" font-size="10" textLength="24.4" lengthAdjust="spacingAndGlyphs">47.50</text>
<text x="912.6" y="148.14" font-size="10" textLength="24.4" lengthAdjust="spacingAndGlyphs">45.00</text>
<text x="912.6" y="184.82" font-size="10" textLength="24.4" lengthAdjust="spacingAndGlyphs">42.50</text>
<text x="912.6" y="221.5" font-size="10" textLength="24.4" lengthAdjust="spacingAndGlyphs">40.00</text>
<text x="912.6" y="258.18" font-size="10" textLength="24.4" lengthAdjust="spacingAndGlyphs">37.50</text>
<text x="912.6" y="294.86" font-size="10" textLength="24.4" lengthAdjust="spacingAndGlyphs">35.00</text>
<text x="912.6" y="331.54" font-size="10" textLength="24.4" lengthAdjust="spacingAndGlyphs">32.50</text>
<text x="912.6" y="368.22" font-size="10" textLength="24.4" lengthAdjust="spacingAndGlyphs">30.00</text>
<text x="912.8" y="419.7" font-size="10">80</text>
<text x="912.8" y="445.5" font-size="10">60</text>
<text x="912.8" y="471.3" font-size="10">40</text>
<text x="912.8" y="497.1" font-size="10">20</text>
<text transform="translate(943,183) rotate(90)" font-size="10" textLength="18.8" lengthAdjust="spacingAndGlyphs">Kurs</text>
<text transform="translate(929.5,443.4) rotate(90)" font-size="10" textLength="21.4" lengthAdjust="spacingAndGlyphs">Stoch</text>
<text x="82" y="532" font-size="10.4" text-anchor="middle" letter-spacing="-0.45">Nov. '24</text>
<text x="150" y="532" font-size="10.4" text-anchor="middle" letter-spacing="-0.18">Dez. '24</text>
<text x="215" y="532" font-size="10.4" text-anchor="middle" letter-spacing="-0.18">Jan. '25</text>
<text x="287" y="532" font-size="10.4" text-anchor="middle" letter-spacing="-0.18">Feb. '25</text>
<text x="352" y="532" font-size="10.4" text-anchor="middle" letter-spacing="-0.18">März '25</text>
<text x="421" y="532" font-size="10.4" text-anchor="middle" letter-spacing="-0.18">Apr. '25</text>
<text x="486" y="532" font-size="10.4" text-anchor="middle" letter-spacing="-0.18">Mai '25</text>
<text x="554" y="532" font-size="10.4" text-anchor="middle" letter-spacing="-0.18">Juni '25</text>
<text x="623" y="532" font-size="10.4" text-anchor="middle" letter-spacing="-0.18">Juli '25</text>
<text x="697" y="532" font-size="10.4" text-anchor="middle" letter-spacing="-0.18">Aug. '25</text>
<text x="766" y="532" font-size="10.4" text-anchor="middle" letter-spacing="-0.18">Sept. '25</text>
<text x="837" y="532" font-size="10.4" text-anchor="middle" letter-spacing="-0.18">Okt. '25</text>
</g></svg></body></html>
